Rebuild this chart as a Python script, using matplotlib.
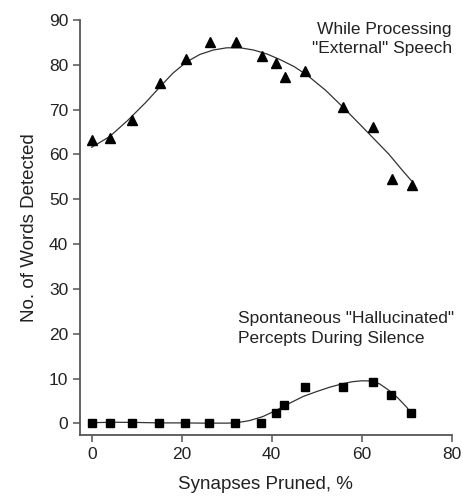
import numpy as np
import matplotlib
matplotlib.use('Agg')
from matplotlib import pyplot as plt

# data
pruned_ext = [0, 4.1, 9.0, 15.1, 21.0, 26.2, 32.0, 37.9, 40.9, 43.0, 47.3, 55.9, 62.5, 66.7, 71.2]
words_ext  = [63.3, 63.6, 67.7, 75.9, 81.3, 85.1, 85.1, 81.9, 80.4, 77.2, 78.6, 70.6, 66.1, 54.5, 53.2]

pruned_hal = [0, 4.0, 9.0, 14.9, 20.8, 26.1, 31.8, 37.6, 40.9, 42.7, 47.3, 55.9, 62.4, 66.6, 70.9]
words_hal  = [0.15, 0.15, 0.15, 0.1, 0.1, 0.0, 0.0, 0.15, 2.2, 4.2, 8.2, 8.2, 9.2, 6.4, 2.2]

# fitted curves
fit_ext_x = [0, 4, 8, 12, 15, 18, 21, 24, 27, 30, 33, 36, 39, 42, 45, 48, 52, 56, 60, 63, 66, 69, 71]
fit_ext_y = [61.6, 64.0, 67.6, 71.6, 74.9, 78.1, 80.6, 82.3, 83.3, 83.8, 83.8, 83.3, 82.4, 81.1, 79.6, 77.6, 74.3, 70.4, 66.3, 63.2, 60.1, 56.5, 54.2]

fit_hal_x = [0, 5, 10, 15, 20, 25, 30, 32, 35, 38, 41, 44, 47, 50, 53, 56, 58, 60, 62, 64, 66, 68, 70, 71]
fit_hal_y = [0.15, 0.25, 0.2, 0.1, 0.1, 0.05, 0.05, 0.1, 0.6, 1.5, 2.9, 4.5, 6.0, 7.1, 8.1, 8.9, 9.3, 9.5, 9.45, 8.8, 7.4, 5.7, 3.6, 2.2]

font = ['Liberation Sans Narrow', 'Liberation Sans', 'DejaVu Sans']
plt.rcParams['font.family'] = font
txt = '#222222'
ax_col = '#555555'

fig = plt.figure(figsize=(4.63, 4.98), dpi=100)
ax = fig.add_axes([0.1728, 0.1265, 0.8028, 0.8333])

ax.plot(fit_ext_x, fit_ext_y, color='#333333', lw=0.9)
ax.plot(fit_hal_x, fit_hal_y, color='#333333', lw=0.9)
ax.plot(pruned_ext, words_ext, ls='none', marker='^', ms=7.5, color='black')
ax.plot(pruned_hal, words_hal, ls='none', marker='s', ms=5.5, color='black')

ax.set_xlim(-2.6, 80)
ax.set_ylim(-2.6, 90)
ax.set_xticks([0, 20, 40, 60, 80])
ax.set_yticks(range(0, 91, 10))

for s in ['top', 'right']:
    ax.spines[s].set_visible(False)
for s in ['left', 'bottom']:
    ax.spines[s].set_color(ax_col)
    ax.spines[s].set_linewidth(1.3)
ax.tick_params(direction='out', length=5, width=1.1, color=ax_col,
               labelsize=12.5, labelcolor=txt)

ax.set_xlabel('Synapses Pruned, %', fontsize=13.5, color=txt, labelpad=10)
ax.set_ylabel('No. of Words Detected', fontsize=13.5, color=txt, labelpad=8)

ax.text(80, 89.5, 'While Processing\n"External" Speech', ha='right', va='top',
        fontsize=12.5, color=txt, linespacing=1.35)
ax.text(32.5, 25, 'Spontaneous "Hallucinated"\nPercepts During Silence', ha='left', va='top',
        fontsize=12.5, color=txt, linespacing=1.35)

fig.savefig('out.png', dpi=100)
